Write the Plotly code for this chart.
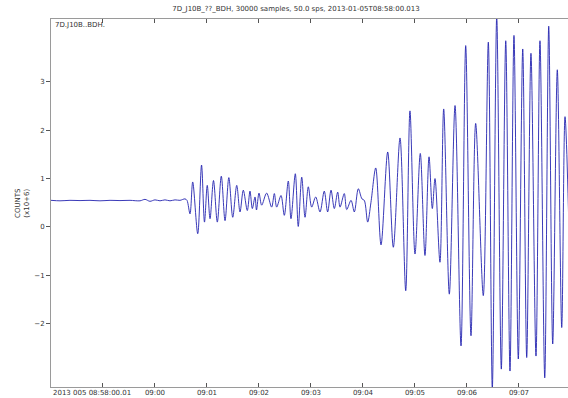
import plotly.graph_objects as go

# Seismogram trace: time (s after 08:58:00.013) and counts (x1e6)
t_sec = [0.0, 10.4, 21.9, 33.5, 45.0, 56.5, 68.1, 79.6, 91.2, 102.7, 108.5, 114.2, 120.0,
         125.8, 131.5, 137.3, 143.1, 148.8, 154.6, 156.9, 160.4, 163.5, 169.3, 173.7, 177.1,
         180.3, 183.5, 187.5, 191.9, 196.5, 200.8, 205.2, 209.7, 214.3, 218.1, 221.9, 226.5,
         229.6, 232.3, 235.4, 237.1, 240.0, 243.1, 248.8, 254.6, 257.7, 260.4, 265.4, 269.2,
         273.8, 276.9, 281.9, 285.3, 289.3, 293.1, 296.9, 300.8, 305.4, 310.4, 315.3, 319.2,
         323.1, 326.9, 330.8, 333.5, 338.4, 341.2, 346.2, 350.0, 354.6, 358.8, 361.5, 365.4,
         369.2, 374.7, 380.8, 388.5, 395.0, 402.7, 409.3, 414.2, 420.0, 426.1, 431.5, 436.2,
         440.0, 443.1, 448.8, 453.1, 459.6, 466.2, 473.1, 478.5, 484.6, 490.0, 498.8, 504.6,
         509.2, 514.3, 519.6, 524.7, 529.6, 534.2, 539.2, 544.3, 548.9, 553.8, 559.6, 564.2,
         569.7, 574.3, 578.9, 584.2, 589.3, 593.1, 600.0]
counts_e6 = [0.55, 0.54, 0.55, 0.545, 0.55, 0.54, 0.55, 0.545, 0.55, 0.54, 0.57, 0.53, 0.56,
             0.54, 0.56, 0.54, 0.56, 0.55, 0.58, 0.55, 0.27, 0.93, -0.14, 1.28, 0.10,
             0.86, 0.17, 0.96, 0.10, 1.05, 0.13, 1.02, 0.20, 0.86, 0.31, 0.76, 0.34,
             0.74, 0.38, 0.62, 0.35, 0.70, 0.45, 0.70, 0.41, 0.69, 0.41, 0.65, 0.24,
             0.95, 0.17, 1.10, 0.01, 1.03, 0.20, 0.83, 0.41, 0.62, 0.31, 0.74, 0.31,
             0.76, 0.38, 0.72, 0.41, 0.69, 0.36, 0.55, 0.31, 0.79, 0.58, 0.55, 0.10,
             0.51, 1.22, -0.37, 1.55, -0.42, 1.84, -1.32, 2.40, -0.56, 1.52, -0.59, 1.45,
             0.38, 1.00, -0.73, 2.44, -1.39, 2.51, -2.46, 3.75, -2.25, 2.14, -1.42, 3.82,
             -3.35, 4.35, -2.94, 3.85, -2.98, 3.96, -2.73, 3.68, -2.70, 3.59, -2.67, 3.85,
             -3.12, 4.15, -2.42, 3.25, -2.08, 2.28, -1.8]

tick_secs = [59.987, 119.987, 179.987, 239.987, 299.987, 359.987, 419.987, 479.987, 539.987]
tick_labels = ["", "09:00", "09:01", "09:02", "09:03", "09:04", "09:05", "09:06", "09:07"]
y_ticks = [-2, -1, 0, 1, 2, 3]

title_text = "7D_J10B_??_BDH, 30000 samples, 50.0 sps, 2013-01-05T08:58:00.013"
trace_id = "7D.J10B..BDH."
start_label = "2013 005 08:58:00.01"

W, H = 568, 398
L, T, B = 51, 19, 387
plot_w = W - L

fig = go.Figure()
fig.add_trace(go.Scatter(x=t_sec, y=counts_e6, mode="lines",
                         line=dict(color="#2424b0", width=0.9, shape="spline", smoothing=0.9),
                         hoverinfo="skip", showlegend=False))

axis_col = "#9a9a9a"
font = dict(family="DejaVu Sans", size=7, color="#333333")

fig.update_layout(
    width=W, height=H,
    margin=dict(l=L, r=0, t=T, b=H - B, pad=0),
    paper_bgcolor="white", plot_bgcolor="white",
    font=font,
    title=dict(text=title_text, x=296 / W, xref="container", xanchor="center",
               y=1 - 9 / H, yref="container", yanchor="middle",
               font=font),
    xaxis=dict(range=[0, plot_w * 60 / 52], tickvals=tick_secs, ticktext=tick_labels,
               ticks="inside", ticklen=4, tickcolor="#555555", showline=True,
               linecolor=axis_col, linewidth=1, mirror="ticks", showgrid=False,
               zeroline=False, automargin=False, tickfont=font, ticklabelstandoff=-1),
    yaxis=dict(range=[-3.31, 4.30], tickvals=y_ticks, ticks="outside", ticklen=4,
               tickcolor="#555555", showline=True, linecolor=axis_col, linewidth=1,
               showgrid=False, zeroline=False, automargin=False, tickfont=font),
    annotations=[
        dict(text=trace_id, x=0.004, y=1 - 6 / (B - T), xref="paper", yref="paper",
             xanchor="left", yanchor="middle", showarrow=False, font=font),
        dict(text=start_label, x=0, y=-6 / (B - T), xref="paper", yref="paper",
             xanchor="left", yanchor="middle", showarrow=False, font=font),
        dict(text="COUNTS<br>(x10+6)", x=(22 - L) / plot_w, y=0.5, xref="paper", yref="paper",
             xanchor="center", yanchor="middle", showarrow=False, textangle=-90, font=font),
    ],
)

fig.write_html("out.html")
